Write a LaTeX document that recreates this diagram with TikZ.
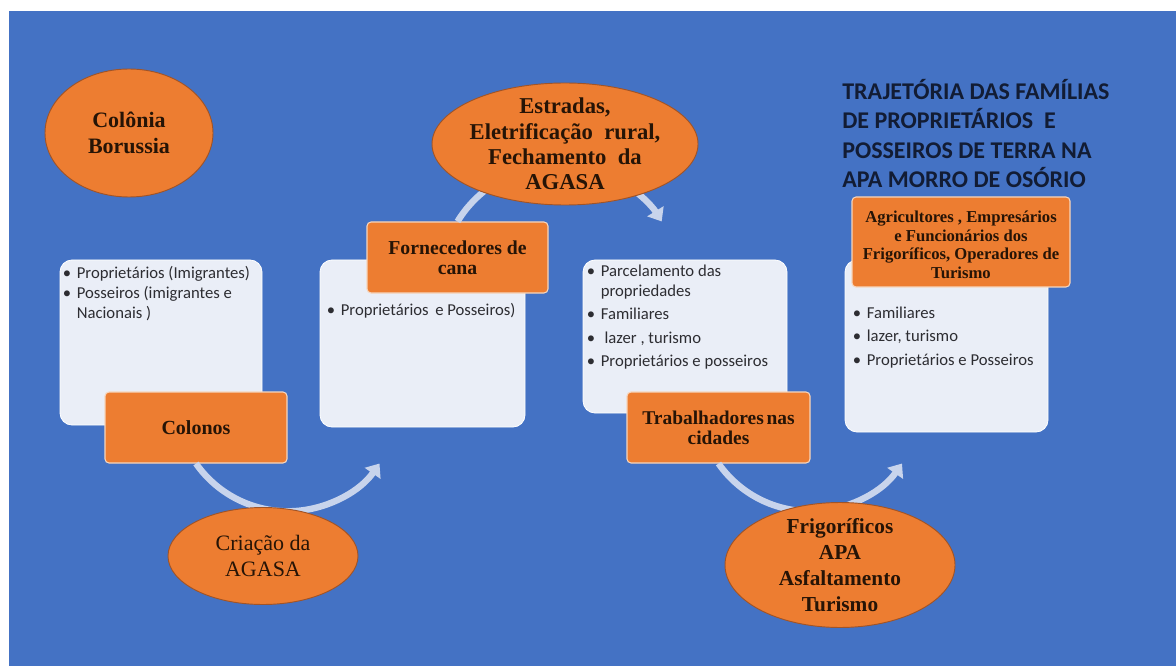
\documentclass[tikz,border=0pt]{standalone}
\usepackage{fontspec}
\setmainfont{Liberation Serif}
\newfontfamily\cardfont{Carlito}
\usepackage{xcolor}
\definecolor{bgblue}{RGB}{68, 114, 196}
\definecolor{orangefill}{RGB}{237, 125, 49}
\definecolor{ovalline}{RGB}{160, 84, 40}
\definecolor{tagline}{RGB}{246, 214, 190}
\definecolor{cardfill}{RGB}{234, 238, 247}
\definecolor{cardink}{RGB}{45, 45, 50}
\definecolor{flowcol}{RGB}{200, 212, 236}
\definecolor{inkdark}{RGB}{38, 20, 6}
\definecolor{titleink}{RGB}{18, 28, 52}
\usepackage{tikz}
\usetikzlibrary{arrows.meta, shapes.geometric, calc}
\newcommand{\itembul}{\makebox[10.5pt][l]{•}}

\begin{document}
\begin{tikzpicture}[x=0.75pt, y=-0.75pt,
    oval/.style={ellipse, draw=ovalline, fill=orangefill, line width=0.7pt, inner sep=0pt},
    ovaltext/.style={align=center, text=inkdark, inner sep=0pt},
    tag/.style={rectangle, rounded corners=3pt, draw=tagline, line width=0.8pt,
      fill=orangefill, align=center, text=inkdark, inner sep=0pt},
    card/.style={rectangle, rounded corners=9pt, draw=white, line width=0.6pt, fill=cardfill},
    items/.style={anchor=north west, inner sep=0pt, align=left, text=cardink,
      font=\cardfont\fontsize{12.5}{15}\selectfont},
    flow/.style={draw=flowcol, line width=4.8pt, -{Triangle[length=9pt,width=14pt]}}
  ]
  \useasboundingbox (0,0) rectangle (1176,666);
  \fill[white] (0,0) rectangle (1176,666);
  \fill[bgblue] (9,11) rectangle (1176,666);

  % cards
  \node[card, minimum width=151.5pt, minimum height=123.75pt] (card1) at (161,342.5) {};
  \node[card, minimum width=153.75pt, minimum height=125.25pt] (card2) at (422.5,343.5) {};
  \node[card, minimum width=153pt, minimum height=114.75pt] (card3) at (685,336.5) {};
  \node[card, minimum width=152.25pt, minimum height=129pt] (card4) at (946.5,346) {};

  \node[items] (card1txt) at ([shift={(3,6)}]card1.north west)
    {\itembul Proprietários (Imigrantes)\\
     \itembul Posseiros (imigrantes e\\
     \hspace*{10.5pt}Nacionais )};
  \node[items] (card2txt) at ([shift={(7,43)}]card2.north west)
    {\itembul Proprietários\, e Posseiros)};
  \node[items] (card3txt) at ([shift={(4,5)}]card3.north west)
    {\itembul Parcelamento das\\
     \hspace*{10.5pt}propriedades\\[2.5pt]
     \itembul Familiares\\[2.5pt]
     \itembul\ lazer , turismo\\[2.5pt]
     \itembul Proprietários e posseiros};
  \node[items] (card4txt) at ([shift={(8,47)}]card4.north west)
    {\itembul Familiares\\[2.5pt]
     \itembul lazer, turismo\\[2.5pt]
     \itembul Proprietários e Posseiros};

  % tags
  \node[tag, minimum width=136.5pt, minimum height=53.25pt,
    font=\bfseries\fontsize{15}{18}\selectfont] (colonos) at (196,427.5) {Colonos};
  \node[tag, minimum width=135.75pt, minimum height=53.25pt,
    font=\bfseries\fontsize{14.8}{15}\selectfont] (fornec) at (457.5,257.5)
    {Fornecedores de\\cana};
  \node[tag, minimum width=137.25pt, minimum height=53.25pt,
    font=\bfseries\fontsize{14.6}{15}\selectfont] (trab) at (718.5,427.5)
    {Trabalhadores\hspace{2pt}nas\\cidades};
  \node[tag, minimum width=163.5pt, minimum height=67.5pt,
    font=\bfseries\fontsize{12.5}{13.9}\selectfont] (agric) at (961,242)
    {\rule{0pt}{13pt}Agricultores\ , Empresários\\e Funcionários dos\\Frigoríficos, Operadores de\\Turismo};

  % arcs
  \draw[flow] (colonos.south) arc[start angle=145, end angle=35, radius=112];
  \draw[flow] (fornec.north) arc[start angle=211.7, end angle=328.3, radius=120];
  \draw[flow] (trab.south) arc[start angle=145, end angle=35, radius=112];

  % ovals
  \node[oval, minimum width=126pt, minimum height=96pt,
    label={[ovaltext, font=\bfseries\fontsize{16.5}{19.5}\selectfont]center:{Colônia\\Borussia}}]
    (colonia) at (129,133) {};
  \node[oval, minimum width=142.5pt, minimum height=72.75pt,
    label={[ovaltext, font=\fontsize{16.5}{20}\selectfont]center:{Criação da\\AGASA}}]
    (agasa) at (263,556) {};
  \node[oval, minimum width=199.5pt, minimum height=91.5pt,
    label={[ovaltext, font=\bfseries\fontsize{17}{19}\selectfont]center:{Estradas,\\Eletrificação\ \ rural,\\Fechamento\ \ da\\AGASA}}]
    (estradas) at (565,144) {};
  \node[oval, minimum width=172.5pt, minimum height=93.75pt,
    label={[ovaltext, font=\bfseries\fontsize{16}{19.5}\selectfont]center:{Frigoríficos\\APA\\Asfaltamento\\Turismo}}]
    (frigo) at (840,565) {};

  % title
  \node[anchor=north west, inner sep=0pt, align=left, text=titleink,
    font=\cardfont\bfseries\fontsize{18}{22}\selectfont] (title) at (842,79)
    {TRAJETÓRIA DAS FAMÍLIAS\\DE PROPRIETÁRIOS\ \ E\\POSSEIROS DE TERRA NA\\APA MORRO DE OSÓRIO};
\end{tikzpicture}
\end{document}
